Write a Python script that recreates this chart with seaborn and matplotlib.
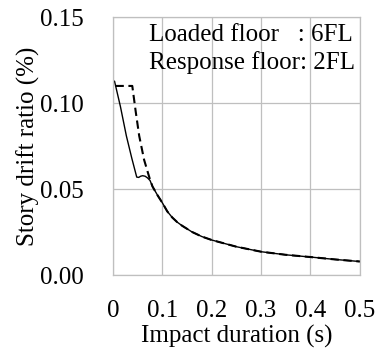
import matplotlib
matplotlib.use("Agg")
import matplotlib.pyplot as plt
import seaborn as sns
import pandas as pd

sns.set_theme(style="white")
plt.rcParams['font.family'] = ['Liberation Serif', 'DejaVu Serif']

# Solid series (impact duration s, story drift ratio %)
solid_x = [0.003, 0.015, 0.027, 0.038, 0.048, 0.052, 0.056, 0.060, 0.065, 0.070, 0.075,
           0.080, 0.090, 0.100, 0.110, 0.120, 0.130, 0.140, 0.160, 0.180, 0.200, 0.250,
           0.300, 0.350, 0.400, 0.450, 0.500]
solid_y = [0.1128, 0.098, 0.0810, 0.068, 0.0570, 0.0568, 0.0575, 0.0578, 0.0575, 0.0565, 0.0550,
           0.0515, 0.0465, 0.0420, 0.0370, 0.0335, 0.0308, 0.0287, 0.0251, 0.0224, 0.0204, 0.0165,
           0.0136, 0.0118, 0.0105, 0.0091, 0.0079]

# Dashed series
dashed_x = [0.005, 0.039, 0.046, 0.053, 0.063, 0.072, 0.075,
            0.080, 0.090, 0.100, 0.110, 0.120, 0.130, 0.140, 0.160, 0.180, 0.200, 0.250,
            0.300, 0.350, 0.400, 0.450, 0.500]
dashed_y = [0.1100, 0.1100, 0.0950, 0.0810, 0.0670, 0.0583, 0.0555,
            0.0515, 0.0465, 0.0420, 0.0370, 0.0335, 0.0308, 0.0287, 0.0251, 0.0224, 0.0204, 0.0165,
            0.0136, 0.0118, 0.0105, 0.0091, 0.0079]

x_ticks = [0, 0.1, 0.2, 0.3, 0.4, 0.5]
x_ticklabels = ["0", "0.1", "0.2", "0.3", "0.4", "0.5"]
y_ticks = [0.00, 0.05, 0.10, 0.15]
y_ticklabels = ["0.00", "0.05", "0.10", "0.15"]

df_solid = pd.DataFrame({"x": solid_x, "y": solid_y})
df_dashed = pd.DataFrame({"x": dashed_x, "y": dashed_y})

fig = plt.figure(figsize=(3.78, 3.5), dpi=100)
ax = fig.add_axes([0.299, 0.214, 0.653, 0.737])

sns.lineplot(data=df_dashed, x="x", y="y", ax=ax, color="black", linewidth=1.5,
             sort=False, estimator=None)
ax.lines[-1].set_dashes([4, 2.2])
sns.lineplot(data=df_solid, x="x", y="y", ax=ax, color="black", linewidth=1.0,
             sort=False, estimator=None)

FS = 18
ax.set_xlim(0, 0.5)
ax.set_ylim(0, 0.15)
ax.set_xticks(x_ticks)
ax.set_xticklabels(x_ticklabels)
ax.set_yticks(y_ticks)
ax.set_yticklabels(y_ticklabels)
ax.tick_params(axis='both', labelsize=FS, length=0, colors='black')
ax.tick_params(axis='y', pad=21)
ax.tick_params(axis='x', pad=18)
ax.grid(True, color="#bfbfbf", linewidth=0.9)
for s in ax.spines.values():
    s.set_color("#bfbfbf")
    s.set_linewidth(0.9)

ax.set_xlabel("Impact duration (s)", fontsize=FS, color='black', labelpad=2)
ax.set_ylabel("Story drift ratio (%)", fontsize=FS, color='black', labelpad=0)

ax.text(0.145, 0.975, "Loaded floor   : 6FL\nResponse floor: 2FL", transform=ax.transAxes,
        ha='left', va='top', fontsize=FS, linespacing=1.28, color='black')

fig.savefig("out.png", dpi=100)
